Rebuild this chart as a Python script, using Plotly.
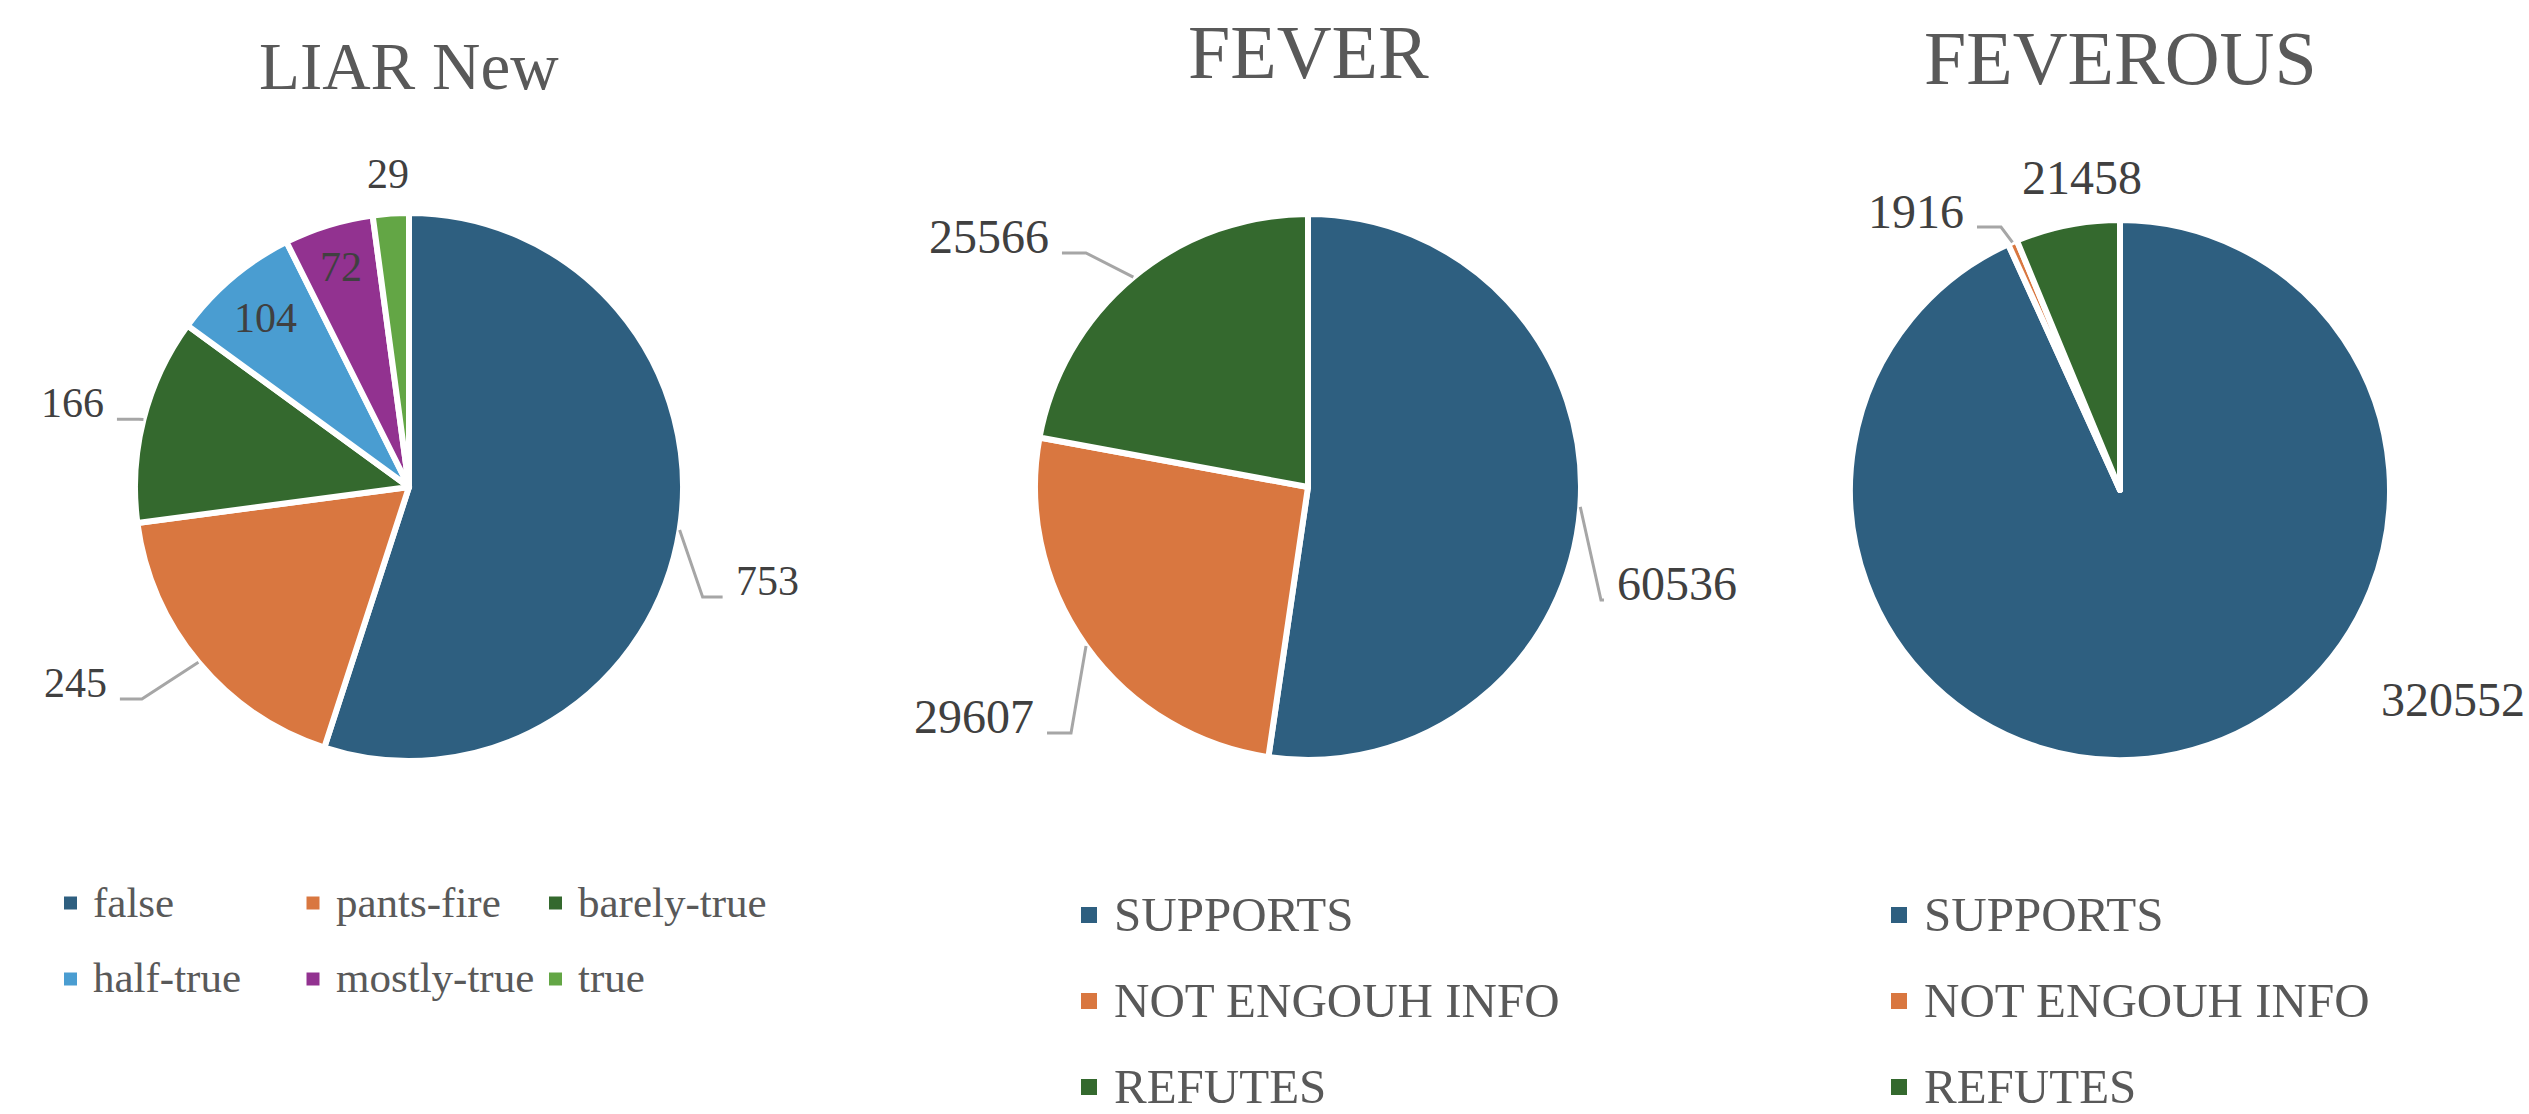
import math
import plotly.graph_objects as go

W, H = 2529, 1114

# ---------------- data ----------------
liar_title = "LIAR New"
liar_labels = ["false", "pants-fire", "barely-true", "half-true", "mostly-true", "true"]
liar_values = [753, 245, 166, 104, 72, 29]

fever_title = "FEVER"
fever_labels = ["SUPPORTS", "NOT ENGOUH INFO", "REFUTES"]
fever_values = [60536, 29607, 25566]

feverous_title = "FEVEROUS"
feverous_labels = ["SUPPORTS", "NOT ENGOUH INFO", "REFUTES"]
feverous_values = [320552, 1916, 21458]

# ---------------- styles ----------------
BLUE, ORANGE, DGREEN = "#2E5F80", "#D97740", "#34692E"
LBLUE, PURPLE, LGREEN = "#4A9DD1", "#923290", "#63A645"
liar_colors = [BLUE, ORANGE, DGREEN, LBLUE, PURPLE, LGREEN]
fever_colors = [BLUE, ORANGE, DGREEN]

FONT = "Liberation Serif"
TITLE_COLOR = "#595959"
LEGEND_COLOR = "#595959"
LABEL_COLOR = "#404040"
LEADER_COLOR = "#A6A6A6"

# label placement: ("out", dx, dy, xanchor, leader, hlen) offsets from rim point at mid-angle,
# or ("rad", factor) radial position along the mid-angle
charts = [
    dict(title=liar_title, labels=liar_labels, values=liar_values, colors=liar_colors,
         cx=409, cy=487, r=274, title_y=66, title_size=67, label_size=42,
         place=[("out", 54, 51, "left", True, 20), ("out", -89.5, 20.6, "right", True, 22),
                ("out", -37.5, -16.3, "right", True, 22), ("rad", 0.81), ("rad", 0.84), ("rad", 1.145)],
         legend=dict(cols=3, x0=64, dx=242.5, y0=902, dy=76, sq=13, gap=14, size=43)),
    dict(title=fever_title, labels=fever_labels, values=fever_values, colors=fever_colors,
         cx=1308, cy=487, r=273, title_y=52, title_size=76, label_size=48,
         place=[("out", 34.7, 77.1, "left", True, 3), ("out", -50, 71, "right", True, 24),
                ("out", -82.4, -40.2, "right", True, 24)],
         legend=dict(cols=1, x0=1081, dx=0, y0=914, dy=86, sq=16, gap=15, size=49)),
    dict(title=feverous_title, labels=feverous_labels, values=feverous_values, colors=fever_colors,
         cx=2120, cy=490, r=270, title_y=58, title_size=76, label_size=48,
         place=[("out", 202, -53.9, "left", False, 0), ("out", -46.5, -31.3, "right", True, 24),
                ("out", 14.6, -47.2, "center", False, 0)],
         legend=dict(cols=1, x0=1891, dx=0, y0=914, dy=86, sq=16, gap=15, size=49)),
]


def px(x):
    return x / W


def py(y):
    return 1 - y / H


fig = go.Figure()
annotations = []
shapes = []

for ch in charts:
    cx, cy, r = ch["cx"], ch["cy"], ch["r"]
    fig.add_trace(go.Pie(
        labels=ch["labels"], values=ch["values"], sort=False, direction="clockwise", rotation=0,
        marker=dict(colors=ch["colors"], line=dict(color="white", width=6)),
        textinfo="none", hoverinfo="label+value", showlegend=False,
        domain=dict(x=[px(cx - r), px(cx + r)], y=[py(cy + r), py(cy - r)]),
    ))
    # title
    annotations.append(dict(text=ch["title"], x=px(cx), y=py(ch["title_y"]), xref="paper", yref="paper",
                            xanchor="center", yanchor="middle", showarrow=False,
                            font=dict(family=FONT, size=ch["title_size"], color=TITLE_COLOR)))
    # value labels
    total = float(sum(ch["values"]))
    cum = 0.0
    for val, pl in zip(ch["values"], ch["place"]):
        a0 = cum / total * 360
        cum += val
        a1 = cum / total * 360
        mid = math.radians((a0 + a1) / 2)
        sx, sy = math.sin(mid), -math.cos(mid)
        if pl[0] == "rad":
            f = pl[1]
            lx, ly = cx + f * r * sx, cy + f * r * sy
            annotations.append(dict(text=str(val), x=px(lx), y=py(ly), xref="paper", yref="paper",
                                    xanchor="center", yanchor="middle", showarrow=False,
                                    font=dict(family=FONT, size=ch["label_size"], color=LABEL_COLOR)))
        else:
            _, dx, dy, xa, leader, hlen = pl
            rx, ry = cx + r * sx, cy + r * sy
            lx, ly = rx + dx, ry + dy
            annotations.append(dict(text=str(val), x=px(lx), y=py(ly), xref="paper", yref="paper",
                                    xanchor=xa, yanchor="middle", showarrow=False,
                                    font=dict(family=FONT, size=ch["label_size"], color=LABEL_COLOR)))
            if leader:
                yl = ly + 16
                sgn = 1 if xa == "right" else -1
                x1 = lx + sgn * 11
                x2 = x1 + sgn * hlen
                path = "M {:.5f},{:.5f} L {:.5f},{:.5f} L {:.5f},{:.5f}".format(
                    px(x1), py(yl), px(x2), py(yl), px(rx), py(ry))
                shapes.append(dict(type="path", path=path, xref="paper", yref="paper",
                                   line=dict(color=LEADER_COLOR, width=3)))
    # legend
    lg = ch["legend"]
    for i, (lab, col) in enumerate(zip(ch["labels"], ch["colors"])):
        c = i % lg["cols"]
        rw = i // lg["cols"]
        mx = lg["x0"] + c * lg["dx"]
        my = lg["y0"] + rw * lg["dy"]
        s = lg["sq"]
        shapes.append(dict(type="rect", xref="paper", yref="paper",
                           x0=px(mx), x1=px(mx + s), y0=py(my + s / 2 + 1), y1=py(my - s / 2 + 1),
                           fillcolor=col, line=dict(width=0)))
        annotations.append(dict(text=lab, x=px(mx + s + lg["gap"]), y=py(my), xref="paper", yref="paper",
                                xanchor="left", yanchor="middle", showarrow=False,
                                font=dict(family=FONT, size=lg["size"], color=LEGEND_COLOR)))

fig.update_layout(
    width=W, height=H, margin=dict(l=0, r=0, t=0, b=0),
    paper_bgcolor="white", plot_bgcolor="white",
    font=dict(family=FONT),
    annotations=annotations, shapes=shapes, showlegend=False,
)

fig.write_html("out.html", config={"displayModeBar": False},
               post_script="document.body.style.margin='0';document.body.style.overflow='hidden';")
